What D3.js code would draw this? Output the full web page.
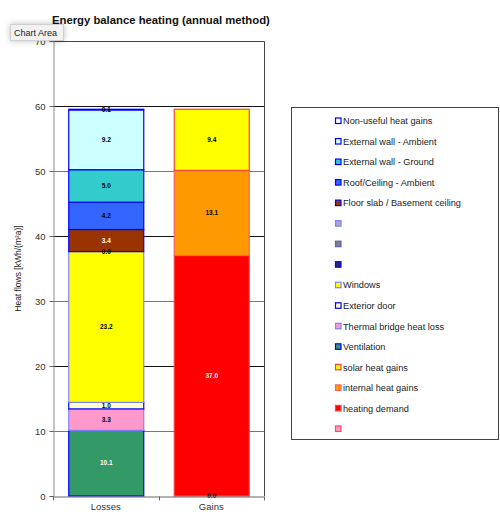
<!DOCTYPE html>
<html>
<head>
<meta charset="utf-8">
<script src="https://cdn.jsdelivr.net/npm/d3@7/dist/d3.min.js"></script>
<style>
  html, body { margin: 0; padding: 0; background: #fff; }
  svg { display: block; font-family: "Liberation Sans", Arial, sans-serif; }
</style>
</head>
<body>
<svg id="chart" width="500" height="512"></svg>
<script>
// Categories on the x axis
const categories = ["Losses", "Gains"];

// Series in stacking order (bottom to top); empty names are unnamed series
const seriesNames = [
  "", "heating demand", "internal heat gains", "solar heat gains",
  "Ventilation", "Thermal bridge heat loss", "Exterior door", "Windows",
  "", "", "", "Floor slab / Basement ceiling", "Roof/Ceiling - Ambient",
  "External wall - Ground", "External wall - Ambient", "Non-useful heat gains"
];

// Values per series for the Losses column (null = empty cell)
const lossesValues = [
  null, null, null, null,
  10.1, 3.3, 1.0, 23.2,
  0.0, null, null, 3.4, 4.2,
  5.0, 9.2, 0.1
];

// Values per series for the Gains column (null = empty cell)
const gainsValues = [
  0.0, 37.0, 13.1, 9.4,
  null, null, null, null,
  null, null, null, null, null,
  null, null, null
];

const fillColors = [
  "#FF99CC", "#FF0000", "#FF9900", "#FFFF00",
  "#339966", "#FF99CC", "#FFFFCC", "#FFFF00",
  "#2B2B5E", "#808080", "#A8A8C8", "#993300", "#3366FF",
  "#33CCCC", "#CCFFFF", "#FFFFFF"
];
const strokeColors = [
  "#FF5050", "#FF4040", "#FF6060", "#FF4040",
  "#0000FF", "#8080FF", "#0000FF", "#8080FF",
  "#0000FF", "#6060C0", "#8080FF", "#0000FF", "#0000FF",
  "#0000FF", "#0000FF", "#0000FF"
];
const labelColors = [
  "#000", "#fff", "#000", "#000",
  "#fff", "#000", "#000", "#000",
  "#000", "#000", "#000", "#fff", "#000",
  "#000", "#000", "#000"
];

const yTicks = [0, 10, 20, 30, 40, 50, 60, 70];
const title = "Energy balance heating (annual method)";
const yTitle = "Heat flows [kWh/(m\u00B2a)]";

const svg = d3.select("#chart");

const plot = { left: 53, right: 264, top: 41, bottom: 496 };

const y = d3.scaleLinear().domain([0, 70]).range([plot.bottom, plot.top]);
const x = d3.scaleBand().domain(categories)
  .range([plot.left, plot.right])
  .paddingInner(0.289).paddingOuter(0.1445);

// Build a table: one row per category, one column per series
const valueRows = [lossesValues, gainsValues];
const table = categories.map((c, ci) => {
  const row = { category: c };
  seriesNames.forEach((n, si) => { row["s" + si] = valueRows[ci][si]; });
  return row;
});
const keys = seriesNames.map((n, i) => "s" + i);
const stacked = d3.stack().keys(keys)
  .value((d, k) => d[k] == null ? 0 : d[k])(table);

// Gridlines
svg.append("g").selectAll("line")
  .data(yTicks.filter(t => t > 0 && t < 70))
  .join("line")
  .attr("x1", plot.left).attr("x2", plot.right)
  .attr("y1", d => Math.round(y(d)) + 0.5).attr("y2", d => Math.round(y(d)) + 0.5)
  .attr("stroke", (d, i) => i % 2 === 1 ? "#111" : "#777")
  .attr("stroke-width", 1);

// Plot frame (top and right)
svg.append("path")
  .attr("d", `M${plot.left},${plot.top + 0.5}H${plot.right + 0.5}V${plot.bottom}`)
  .attr("fill", "none").attr("stroke", "#444");

// Bars
const barsG = svg.append("g");
stacked.forEach((layer, si) => {
  layer.forEach((seg, ci) => {
    const v = valueRows[ci][si];
    if (v == null || v === 0) return;
    barsG.append("rect")
      .attr("x", x(categories[ci]) + 0.5)
      .attr("y", y(seg[1]))
      .attr("width", x.bandwidth())
      .attr("height", y(seg[0]) - y(seg[1]))
      .attr("fill", fillColors[si])
      .attr("stroke", strokeColors[si])
      .attr("stroke-width", 1.2);
  });
});

// Data labels
const labelsG = svg.append("g")
  .attr("font-size", 6.5).attr("font-weight", "bold").attr("text-anchor", "middle");
stacked.forEach((layer, si) => {
  layer.forEach((seg, ci) => {
    const v = valueRows[ci][si];
    if (v == null) return;
    labelsG.append("text")
      .attr("x", x(categories[ci]) + x.bandwidth() / 2 + 0.5)
      .attr("y", y((seg[0] + seg[1]) / 2) + 2.3)
      .attr("fill", labelColors[si])
      .text(d3.format(".1f")(v));
  });
});

// Y axis
const yAxis = svg.append("g")
  .attr("transform", `translate(${plot.left + 0.5},0)`)
  .call(d3.axisLeft(y).tickValues(yTicks).tickSize(4).tickPadding(4).tickFormat(d3.format("d")));
yAxis.select(".domain").attr("stroke", "#888");
yAxis.selectAll(".tick line").attr("stroke", "#666");
yAxis.selectAll("text").attr("font-size", 9.5).attr("fill", "#333")
  .attr("font-family", "'Liberation Sans', Arial, sans-serif");

// X axis
const xAxis = svg.append("g")
  .attr("transform", `translate(0,${plot.bottom + 0.5})`)
  .call(d3.axisBottom(x).tickSize(0).tickPadding(7));
xAxis.select(".domain").attr("stroke", "#666");
xAxis.selectAll("text").attr("font-size", 9.5).attr("fill", "#333")
  .attr("font-family", "'Liberation Sans', Arial, sans-serif");
// category separators
xAxis.append("g").selectAll("line")
  .data([plot.left, x("Gains") - x.step() * 0.289 / 2, plot.right])
  .join("line")
  .attr("x1", d => Math.round(d) + 0.5).attr("x2", d => Math.round(d) + 0.5)
  .attr("y1", 0).attr("y2", 4)
  .attr("stroke", "#666");

// Y axis title
svg.append("text")
  .attr("transform", `translate(21,${(plot.top + plot.bottom) / 2}) rotate(-90)`)
  .attr("text-anchor", "middle").attr("font-size", 8.5).attr("fill", "#222")
  .text(yTitle);

// Chart title
svg.append("text")
  .attr("x", 52).attr("y", 24)
  .attr("font-size", 11.3).attr("font-weight", "bold").attr("fill", "#111")
  .text(title);

// Legend (top of stack listed first)
const legendX = 291.5, legendY = 107.5, legendW = 207, legendH = 332;
svg.append("rect")
  .attr("x", legendX).attr("y", legendY).attr("width", legendW).attr("height", legendH)
  .attr("fill", "#fff").attr("stroke", "#444");
const legendOrder = d3.range(seriesNames.length).reverse();
const legendItems = svg.append("g").selectAll("g")
  .data(legendOrder)
  .join("g")
  .attr("transform", (d, i) => `translate(335,${121 + i * 20.53})`);
legendItems.append("rect")
  .attr("x", 0.5).attr("y", -3).attr("width", 5.5).attr("height", 5.5)
  .attr("fill", d => fillColors[d]).attr("stroke", d => strokeColors[d]).attr("stroke-width", 1.2);
legendItems.append("text")
  .attr("x", 8).attr("y", 3.2).attr("font-size", 9.2).attr("fill", "#222")
  .text(d => seriesNames[d]);

// "Chart Area" hover tag
const defs = svg.append("defs");
const f = defs.append("filter").attr("id", "tagShadow")
  .attr("x", "-40%").attr("y", "-80%").attr("width", "180%").attr("height", "260%");
f.append("feGaussianBlur").attr("in", "SourceAlpha").attr("stdDeviation", 3);
f.append("feComponentTransfer").append("feFuncA").attr("type", "linear").attr("slope", 0.25);
const m = f.append("feMerge");
m.append("feMergeNode");
m.append("feMergeNode").attr("in", "SourceGraphic");
svg.append("rect")
  .attr("x", 10.5).attr("y", 24.5).attr("width", 53).attr("height", 16)
  .attr("fill", "#f2f2f2").attr("stroke", "#d0d0d0")
  .attr("filter", "url(#tagShadow)");
svg.append("text")
  .attr("x", 14).attr("y", 36).attr("font-size", 9).attr("fill", "#222")
  .text("Chart Area");
</script>
</body>
</html>
